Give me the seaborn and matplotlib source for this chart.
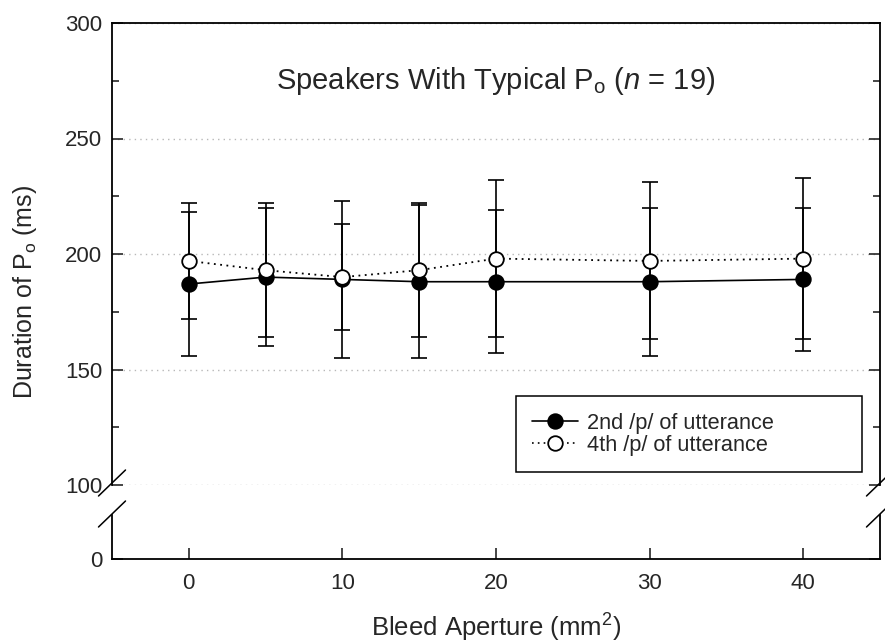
import numpy as np
import pandas as pd
import matplotlib.pyplot as plt
import seaborn as sns
from matplotlib.lines import Line2D
from matplotlib.ticker import MultipleLocator

# data
aperture = [0, 5, 10, 15, 20, 30, 40]
second_mean = [187, 190, 189, 188, 188, 188, 189]
second_sd = [31, 30, 34, 33, 31, 32, 31]
fourth_mean = [197, 193, 190, 193, 198, 197, 198]
fourth_sd = [25, 29, 23, 29, 34, 34, 35]

x_ticks = [0, 10, 20, 30, 40]
y_ticks_top = [100, 150, 200, 250, 300]

df2 = pd.DataFrame({"aperture": aperture, "duration": second_mean})
df4 = pd.DataFrame({"aperture": aperture, "duration": fourth_mean})

sns.set_style("ticks")
plt.rcParams["font.family"] = ["Liberation Sans", "DejaVu Sans"]
plt.rcParams["mathtext.fontset"] = "custom"
plt.rcParams["mathtext.rm"] = "Liberation Sans"
plt.rcParams["mathtext.it"] = "Liberation Sans:italic"

W, H = 885, 644
fig = plt.figure(figsize=(W / 100, H / 100), dpi=100)

def px(x0, y0, x1, y1):
    # pixel box -> figure fraction rect
    return [x0 / W, 1 - y1 / H, (x1 - x0) / W, (y1 - y0) / H]

ax = fig.add_axes(px(112, 23, 880, 485))
axb = fig.add_axes(px(112, 515, 880, 559), sharex=ax)

# error bars
ax.errorbar(aperture, second_mean, yerr=second_sd, fmt="none", ecolor="black",
            elinewidth=1.2, capsize=6, capthick=1.2, zorder=2)
ax.errorbar(aperture, fourth_mean, yerr=fourth_sd, fmt="none", ecolor="black",
            elinewidth=1.2, capsize=6, capthick=1.2, zorder=2)

# mean lines
sns.lineplot(data=df2, x="aperture", y="duration", ax=ax, color="black",
             marker="o", markersize=10.5, markerfacecolor="black",
             markeredgecolor="black", markeredgewidth=1.3, linewidth=1.2,
             errorbar=None, zorder=3)
sns.lineplot(data=df4, x="aperture", y="duration", ax=ax, color="black",
             marker="o", markersize=10.5, markerfacecolor="white",
             markeredgecolor="black", markeredgewidth=1.3, linewidth=1.3,
             linestyle=(0, (1, 2.5)), errorbar=None, zorder=4)

ax.set_xlim(-5, 45)
ax.set_ylim(100, 300)
axb.set_ylim(0, 19)

for a in (ax, axb):
    for s in a.spines.values():
        s.set_linewidth(1.3)
        s.set_color("black")
    a.set_xlabel("")
    a.set_ylabel("")
ax.spines["bottom"].set_visible(False)
axb.spines["top"].set_visible(False)

ax.set_yticks(y_ticks_top)
ax.yaxis.set_minor_locator(MultipleLocator(25))
ax.tick_params(axis="y", which="both", direction="in", left=True, right=True,
               labelsize=16, pad=7, width=1.2)
ax.tick_params(axis="y", which="major", length=8)
ax.tick_params(axis="y", which="minor", length=5)
ax.tick_params(axis="x", which="both", bottom=False, top=False, labelbottom=False)
ax.grid(axis="y", which="major", color="#b8b8b8", linestyle=(0, (1, 3)), linewidth=1)
ax.set_axisbelow(True)

axb.set_yticks([0])
axb.tick_params(axis="y", direction="in", left=True, right=True, length=8,
                labelsize=16, pad=7, width=1.2)
axb.set_xticks(x_ticks)
axb.tick_params(axis="x", direction="in", bottom=True, top=False, length=8,
                labelsize=16, pad=10, width=1.2)

# axis break marks
def slash(xc, yc):
    x0, y0 = xc - 13.5, yc + 13
    x1, y1 = xc + 13.5, yc - 13
    fig.add_artist(Line2D([x0 / W, x1 / W], [1 - y0 / H, 1 - y1 / H],
                          transform=fig.transFigure, color="black", linewidth=1.1))

for xc in (112, 880):
    slash(xc, 483)
    slash(xc, 514)

ax.text(20, 275, r"Speakers With Typical P$_\mathrm{o}$ ($n$ = 19)",
        ha="center", va="center", fontsize=21)

fig.text(496 / W, 1 - 637 / H, r"Bleed Aperture (mm$^2$)", ha="center",
         va="baseline", fontsize=18.5)
fig.text(25 / W, 1 - 292 / H, r"Duration of P$_\mathrm{o}$ (ms)", ha="center",
         va="center", rotation=90, fontsize=18)

handles = [
    Line2D([], [], color="black", linewidth=1.2, marker="o", markersize=10.5,
           markerfacecolor="black", markeredgecolor="black", markeredgewidth=1.3),
    Line2D([], [], color="black", linewidth=1.2, linestyle=(0, (1, 2.5)), marker="o",
           markersize=10.5, markerfacecolor="white", markeredgecolor="black",
           markeredgewidth=1.3),
]
labels = ["2nd /p/ of utterance", "4th /p/ of utterance"]
leg = fig.legend(handles, labels, loc="lower left",
                 bbox_to_anchor=(516 / W, 1 - 472 / H, 346 / W, 72 / H),
                 mode="expand", borderaxespad=0, fontsize=15.7, frameon=True,
                 fancybox=False, edgecolor="black", handlelength=2.1,
                 handletextpad=0.4, borderpad=0.75, labelspacing=0.05)
leg.get_frame().set_linewidth(1.1)
leg.get_frame().set_alpha(1)

fig.savefig("out.png", dpi=100)
